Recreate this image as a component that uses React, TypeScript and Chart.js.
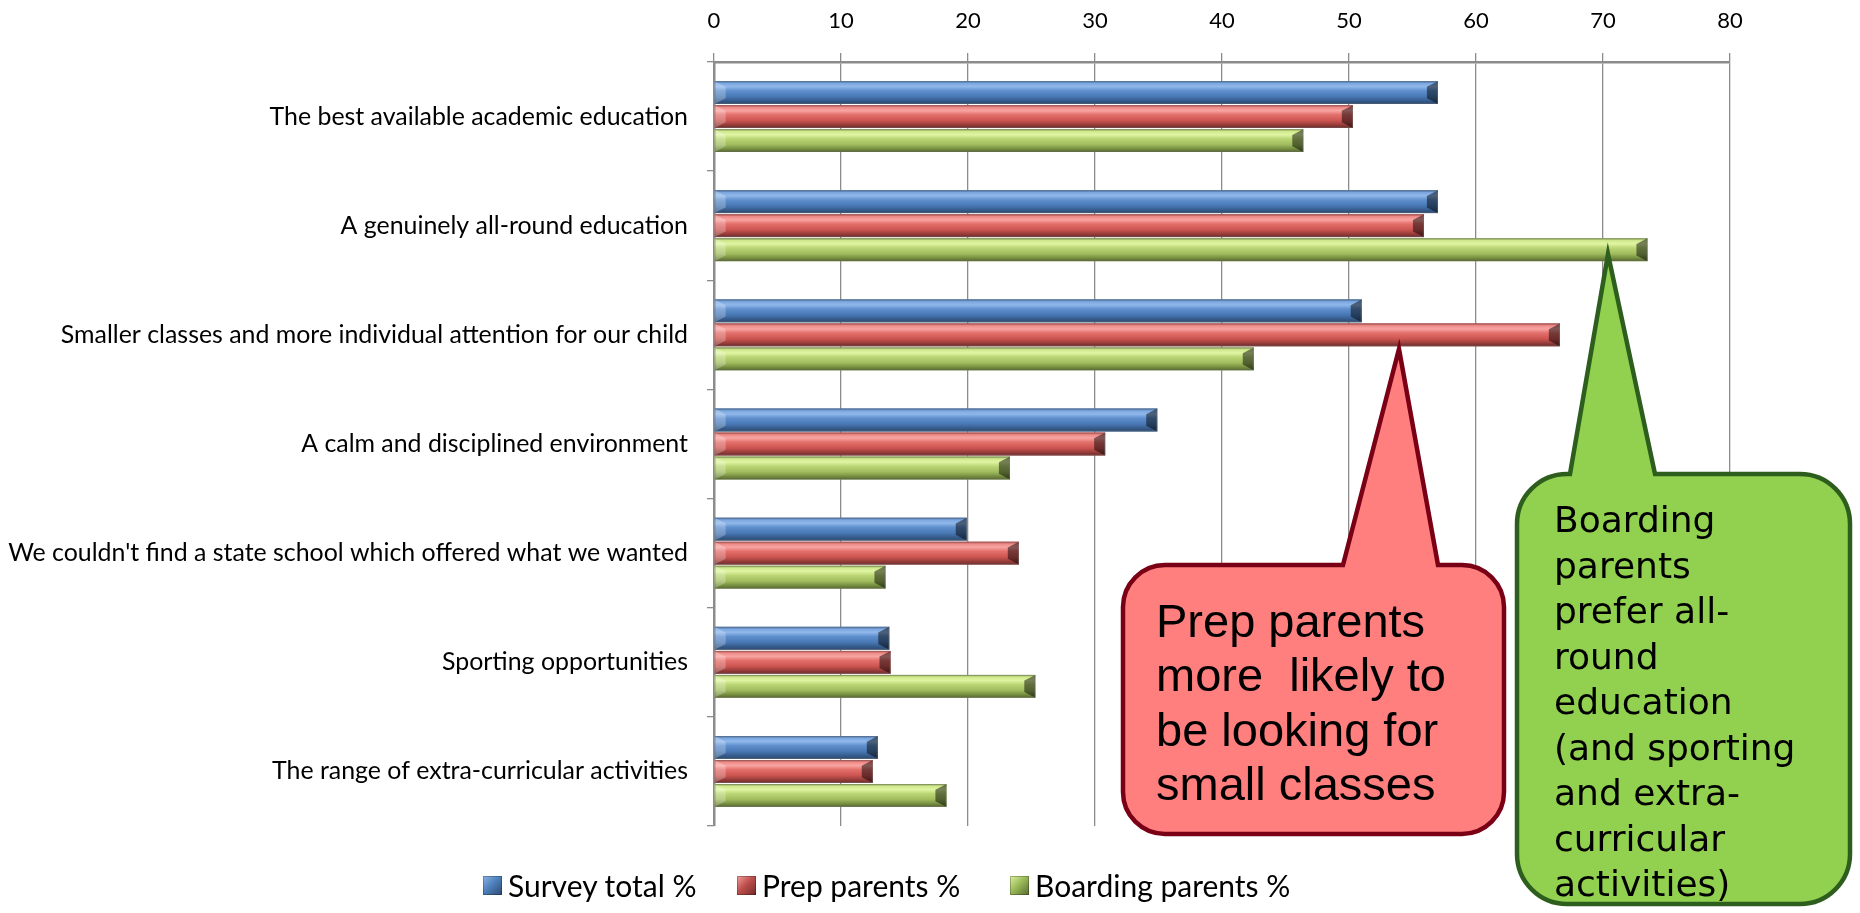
import React, { useEffect, useRef } from "react";
import { Chart, registerables } from "chart.js";

Chart.register(...registerables);

// ---------- data ----------
const categories = [
  "The best available academic education",
  "A genuinely all-round education",
  "Smaller classes and more individual attention for our child",
  "A calm and disciplined environment",
  "We couldn't find a state school which offered what we wanted",
  "Sporting opportunities",
  "The range of extra-curricular activities",
];
const seriesNames = ["Survey total %", "Prep parents %", "Boarding parents %"];
const surveyTotal = [57.0, 57.0, 51.0, 34.9, 19.9, 13.8, 12.9];
const prepParents = [50.3, 55.9, 66.6, 30.8, 24.0, 13.9, 12.5];
const boardingParents = [46.4, 73.5, 42.5, 23.3, 13.5, 25.3, 18.3];
const xMin = 0;
const xMax = 80;
const xStep = 10;
const prepNote = ["Prep parents", "more  likely to", "be looking for", "small classes"];
const boardingNote = [
  "Boarding",
  "parents",
  "prefer all-",
  "round",
  "education",
  "(and sporting",
  "and extra-",
  "curricular",
  "activities)",
];

// ---------- styles ----------
const FONT = "Lato, 'Open Sans', sans-serif";
const baseColors = ["#4F81BD", "#D9605C", "#A9C667"];
const gradients: [number, string][][] = [
  [
    [0, "#3E6BA5"],
    [0.1, "#7DA8DF"],
    [0.24, "#90B8EB"],
    [0.42, "#5F8FCD"],
    [0.68, "#4878B4"],
    [0.86, "#365C8C"],
    [1, "#2A4870"],
  ],
  [
    [0, "#B94744"],
    [0.1, "#EE8C89"],
    [0.24, "#F8A5A2"],
    [0.42, "#E36F6B"],
    [0.68, "#CC5450"],
    [0.86, "#973D3A"],
    [1, "#6C2A29"],
  ],
  [
    [0, "#8CA84E"],
    [0.1, "#D0E98E"],
    [0.24, "#E0F5A3"],
    [0.42, "#BBD675"],
    [0.68, "#9FBB5D"],
    [0.86, "#778F41"],
    [1, "#57682E"],
  ],
];
const legendIcons = [
  "linear-gradient(135deg, #8DB4E6 0%, #4F81BD 45%, #2C4A70 100%)",
  "linear-gradient(135deg, #F2A09D 0%, #C0504D 45%, #6E2A29 100%)",
  "linear-gradient(135deg, #DDF2A0 0%, #9BBB59 45%, #58692F 100%)",
];
const legendLeft = [483, 737, 1010];

const bevelPlugin = {
  id: "bevelBars",
  afterDatasetsDraw(chart: any) {
    const ctx: CanvasRenderingContext2D = chart.ctx;
    chart.data.datasets.forEach((_ds: any, di: number) => {
      const meta = chart.getDatasetMeta(di);
      meta.data.forEach((el: any) => {
        const p = el.getProps(["x", "y", "base", "height"], true);
        const top = p.y - p.height / 2;
        const bot = p.y + p.height / 2;
        const left = Math.min(p.base, p.x);
        const right = Math.max(p.base, p.x);
        const w = right - left;
        if (w <= 0) return;
        ctx.save();
        const g = ctx.createLinearGradient(0, top, 0, bot);
        gradients[di].forEach(([o, c]) => g.addColorStop(o, c));
        ctx.fillStyle = g;
        ctx.fillRect(left, top, w, p.height);
        const bx = Math.min(11, w / 2);
        const by = p.height * 0.25;
        // left facet
        ctx.beginPath();
        ctx.moveTo(left, top);
        ctx.lineTo(left + bx, top + by);
        ctx.lineTo(left + bx, bot - by);
        ctx.lineTo(left, bot);
        ctx.closePath();
        ctx.fillStyle = "rgba(255,255,255,0.25)";
        ctx.fill();
        // right facet
        ctx.beginPath();
        ctx.moveTo(right, top);
        ctx.lineTo(right - bx, top + by);
        ctx.lineTo(right - bx, bot - by);
        ctx.lineTo(right, bot);
        ctx.closePath();
        ctx.fillStyle = "rgba(0,0,0,0.48)";
        ctx.fill();
        ctx.strokeStyle = "rgba(110,110,110,0.45)";
        ctx.lineWidth = 1;
        ctx.strokeRect(left + 0.5, top + 0.5, w - 1, p.height - 1);
        ctx.restore();
      });
    });
  },
};

function drawCallout(
  ctx: CanvasRenderingContext2D,
  l: number,
  t: number,
  r: number,
  b: number,
  rad: number,
  baseL: number,
  baseR: number,
  tipX: number,
  tipY: number,
  fill: string,
  stroke: string,
  lw: number
) {
  ctx.save();
  ctx.beginPath();
  ctx.moveTo(l + rad, t);
  ctx.lineTo(baseL, t);
  ctx.lineTo(tipX, tipY);
  ctx.lineTo(baseR, t);
  ctx.lineTo(r - rad, t);
  ctx.arcTo(r, t, r, t + rad, rad);
  ctx.lineTo(r, b - rad);
  ctx.arcTo(r, b, r - rad, b, rad);
  ctx.lineTo(l + rad, b);
  ctx.arcTo(l, b, l, b - rad, rad);
  ctx.lineTo(l, t + rad);
  ctx.arcTo(l, t, l + rad, t, rad);
  ctx.closePath();
  ctx.fillStyle = fill;
  ctx.fill();
  ctx.lineWidth = lw;
  ctx.lineJoin = "miter";
  ctx.strokeStyle = stroke;
  ctx.stroke();
  ctx.restore();
}

const calloutPlugin = {
  id: "callouts",
  afterDraw(chart: any) {
    const ctx: CanvasRenderingContext2D = chart.ctx;
    drawCallout(ctx, 1123, 565, 1504, 834, 42, 1343, 1438, 1399, 349, "#FF7F7F", "#7A0016", 4.5);
    drawCallout(ctx, 1517, 474, 1850, 904, 50, 1570, 1655, 1608, 254, "#92D050", "#2E5E1E", 4.5);
    ctx.save();
    ctx.fillStyle = "#000";
    ctx.textBaseline = "middle";
    ctx.textAlign = "left";
    ctx.font = "47px 'Liberation Sans', Arial, sans-serif";
    prepNote.forEach((line, i) => ctx.fillText(line, 1156, 624 + i * 54.5));
    ctx.font = "36px 'DejaVu Sans', Verdana, sans-serif";
    boardingNote.forEach((line, i) => ctx.fillText(line, 1554, 523 + i * 45.5));
    ctx.restore();
  },
};

export default function App() {
  const ref = useRef<HTMLCanvasElement | null>(null);
  useEffect(() => {
    if (!ref.current) return;
    const chart = new Chart(ref.current, {
      type: "bar",
      data: {
        labels: categories,
        datasets: [surveyTotal, prepParents, boardingParents].map((d, i) => ({
          label: seriesNames[i],
          data: d,
          backgroundColor: baseColors[i],
          borderWidth: 0,
          categoryPercentage: 0.66,
          barPercentage: 0.95,
        })),
      },
      options: {
        indexAxis: "y",
        responsive: false,
        animation: false,
        layout: { padding: { left: 0, right: 130, top: 0, bottom: 87 } },
        plugins: {
          legend: { display: false },
          tooltip: { enabled: false },
        },
        scales: {
          x: {
            position: "top",
            min: xMin,
            max: xMax,
            ticks: {
              stepSize: xStep,
              color: "#000",
              font: { family: FONT, size: 22 },
              padding: 19,
            },
            grid: { color: "#8C8C8C", lineWidth: 1.3, tickLength: 9 },
            border: { color: "#8C8C8C", width: 2.5 },
            afterFit: (s: any) => {
              s.height = 62;
            },
          },
          y: {
            ticks: {
              color: "#000",
              font: { family: FONT, size: 24.9 },
              padding: 19,
            },
            grid: {
              drawOnChartArea: false,
              color: "#8C8C8C",
              lineWidth: 1.3,
              tickLength: 7,
              offset: true,
            },
            border: { color: "#8C8C8C", width: 2.5 },
            afterFit: (s: any) => {
              s.width = 714;
            },
          },
        },
      },
      plugins: [bevelPlugin, calloutPlugin],
    });
    return () => chart.destroy();
  }, []);

  return (
    <div style={{ position: "fixed", left: 0, top: 0, width: 1860, height: 913, background: "#fff" }}>
      <canvas ref={ref} width={1860} height={913} style={{ display: "block" }} />
      {seriesNames.map((n, i) => (
        <div
          key={n}
          style={{
            position: "absolute",
            left: legendLeft[i],
            top: 866,
            height: 38,
            display: "flex",
            alignItems: "center",
            fontFamily: FONT,
            fontSize: 30,
            color: "#000",
            whiteSpace: "nowrap",
          }}
        >
          <span
            style={{
              display: "inline-block",
              width: 19,
              height: 19,
              background: legendIcons[i],
              marginRight: 6,
              boxShadow: "inset 0 0 0 1px rgba(0,0,0,0.25)",
            }}
          />
          {n}
        </div>
      ))}
    </div>
  );
}
